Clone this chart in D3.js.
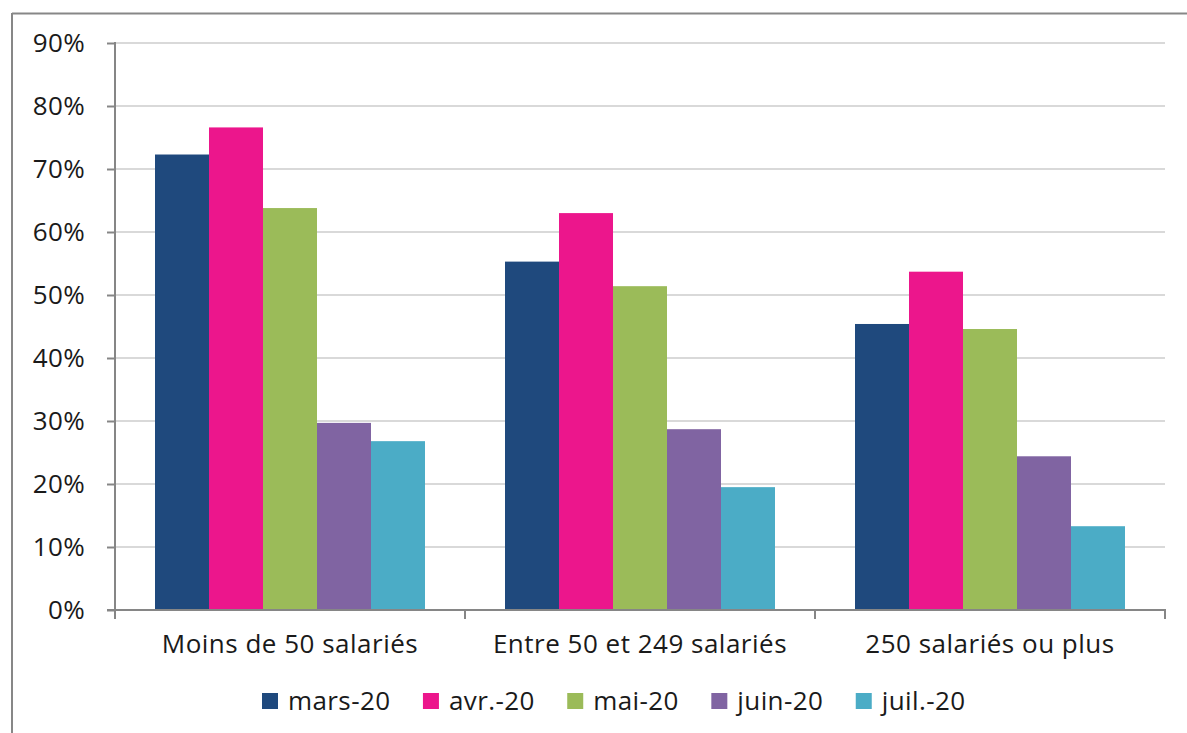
<!DOCTYPE html>
<html>
<head>
<meta charset="utf-8">
<script src="https://cdn.jsdelivr.net/npm/d3@7"></script>
<style>
  html, body { margin: 0; padding: 0; background: #fff; }
  svg { display: block; }
  text { font-family: "Open Sans", sans-serif; fill: #1a1a1a; }
</style>
</head>
<body>
<svg id="chart" width="1187" height="733"></svg>
<script>
const categories = ["Moins de 50 salariés", "Entre 50 et 249 salariés", "250 salariés ou plus"];
const seriesNames = ["mars-20", "avr.-20", "mai-20", "juin-20", "juil.-20"];
const seriesColors = ["#1F497D", "#EC168C", "#9BBB59", "#8064A2", "#4BACC6"];
const marsValues = [0.723, 0.553, 0.454];
const avrValues  = [0.766, 0.630, 0.537];
const maiValues  = [0.638, 0.514, 0.446];
const juinValues = [0.297, 0.287, 0.244];
const juilValues = [0.268, 0.195, 0.133];
const yTicks = [0, 0.1, 0.2, 0.3, 0.4, 0.5, 0.6, 0.7, 0.8, 0.9];

const seriesValues = [marsValues, avrValues, maiValues, juinValues, juilValues];

const svg = d3.select("#chart");
const plot = { left: 115, right: 1165, top: 43, bottom: 610 };

// outer frame (top and left edges visible)
svg.append("line").attr("x1", 12).attr("x2", 1187).attr("y1", 13.5).attr("y2", 13.5)
  .attr("stroke", "#878787").attr("stroke-width", 2);
svg.append("line").attr("x1", 12).attr("x2", 12).attr("y1", 13).attr("y2", 733)
  .attr("stroke", "#878787").attr("stroke-width", 2);

const x = d3.scaleBand().domain(categories).range([plot.left, plot.right]).padding(0);
const xInner = d3.scaleBand().domain(seriesNames).range([40, x.bandwidth() - 40]).padding(0);
const y = d3.scaleLinear().domain([0, 0.9]).range([plot.bottom, plot.top]);

// gridlines
svg.append("g").selectAll("line").data(yTicks.filter(t => t > 0)).join("line")
  .attr("x1", plot.left).attr("x2", plot.right)
  .attr("y1", d => y(d)).attr("y2", d => y(d))
  .attr("stroke", "#d9d9d9").attr("stroke-width", 2);

// bars
const groups = svg.append("g").selectAll("g").data(categories).join("g")
  .attr("transform", d => `translate(${x(d)},0)`);
groups.selectAll("rect")
  .data((c, ci) => seriesNames.map((s, si) => ({ s, si, v: seriesValues[si][ci] })))
  .join("rect")
  .attr("x", d => xInner(d.s))
  .attr("width", xInner.bandwidth())
  .attr("y", d => y(d.v))
  .attr("height", d => y(0) - y(d.v))
  .attr("fill", d => seriesColors[d.si]);

// y axis
const yAxis = d3.axisLeft(y).tickValues(yTicks).tickFormat(d3.format(".0%")).tickSize(8).tickPadding(22);
const gy = svg.append("g").attr("transform", `translate(${plot.left},0)`).call(yAxis);
gy.select(".domain").attr("stroke", "#868686").attr("stroke-width", 2).attr("d", `M0,${plot.top - 1}V${plot.bottom}`);
gy.selectAll(".tick line").attr("stroke", "#868686").attr("stroke-width", 2);
gy.selectAll(".tick text").style("font-size", "26px").style("font-family", "'Open Sans', sans-serif")
  .style("letter-spacing", "0.3px")
  .attr("fill", "#1a1a1a").attr("dy", "0.34em");

// x axis
const gx = svg.append("g").attr("transform", `translate(0,${plot.bottom})`);
gx.append("line").attr("x1", plot.left - 8).attr("x2", plot.right + 1).attr("y1", 0).attr("y2", 0)
  .attr("stroke", "#868686").attr("stroke-width", 2);
const bounds = categories.map(c => x(c)).concat([x(categories[categories.length - 1]) + x.bandwidth()]);
gx.selectAll("line.tk").data(bounds).join("line").attr("class", "tk")
  .attr("x1", d => d).attr("x2", d => d).attr("y1", 0).attr("y2", 9)
  .attr("stroke", "#868686").attr("stroke-width", 2);
gx.selectAll("text").data(categories).join("text")
  .attr("x", d => x(d) + x.bandwidth() / 2).attr("y", 43)
  .attr("text-anchor", "middle").style("font-size", "26px").style("letter-spacing", "0.5px").text(d => d);

// legend
const legend = svg.append("g");
let lx = 262;
seriesNames.forEach((s, i) => {
  legend.append("rect").attr("x", lx).attr("y", 693).attr("width", 16).attr("height", 16)
    .attr("fill", seriesColors[i]);
  const t = legend.append("text").attr("x", lx + 26).attr("y", 710)
    .style("font-size", "26px").style("letter-spacing", "0.4px").text(s);
  lx += 26 + t.node().getComputedTextLength() + 32.5;
});
</script>
</body>
</html>
